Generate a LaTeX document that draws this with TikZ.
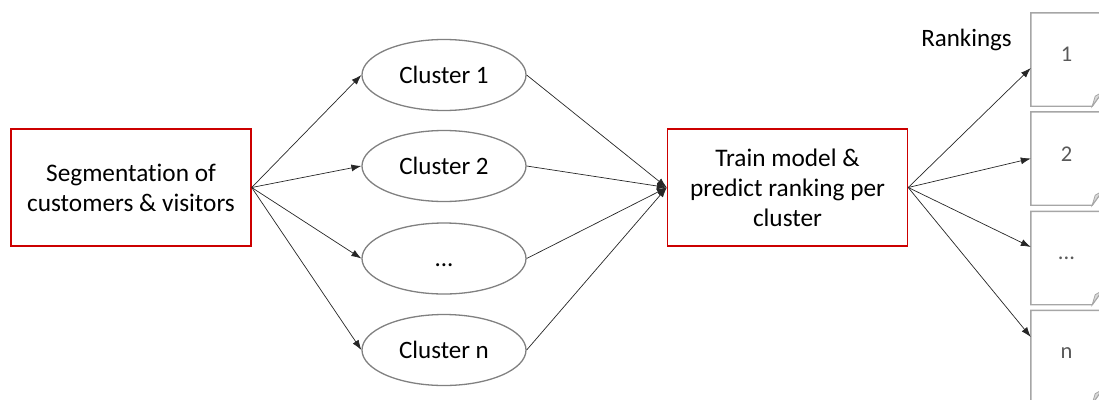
\documentclass[tikz,border=0pt]{standalone}
\usepackage{fontspec}
\setmainfont{Carlito}[Ligatures=NoCommon]
\usetikzlibrary{arrows.meta,shapes.geometric,calc}
\definecolor{boxred}{HTML}{CC0000}
\definecolor{ringgray}{HTML}{808080}
\definecolor{pagegray}{HTML}{A6A6A6}
\definecolor{foldgray}{HTML}{D9D9D9}
\definecolor{numgray}{HTML}{595959}
\begin{document}
\begin{tikzpicture}[x=1pt,y=-1pt,
  stagebox/.style={draw=boxred, line width=1.4pt, minimum width=240pt,
    minimum height=117pt, align=center, inner sep=0pt,
    font=\fontsize{25.3}{30}\selectfont},
  cluster/.style={ellipse, draw=ringgray, line width=1.3pt,
    minimum width=164pt, minimum height=71pt, inner sep=0pt,
    text height=16pt, text depth=0pt, font=\fontsize{25}{30}\selectfont},
  pagebox/.style={minimum width=71pt, minimum height=93pt, inner sep=0pt},
  pagenum/.style={text=numgray, inner sep=0pt, font=\fontsize{22.5}{24}\selectfont},
  pageline/.style={draw=pagegray, line width=1.4pt, line join=miter},
  link/.style={-{Latex[length=10pt,width=7pt]}, line width=0.7pt, draw=black!85}]
\useasboundingbox (0,0) rectangle (1099,399);

% stages
\node[stagebox] (seg) at (131,187.5) {Segmentation of\\customers \& visitors};
\node[stagebox] (train) at (787.5,187.5) {Train model \&\\predict ranking per\\cluster};

% clusters
\node[cluster] (c1) at (444,75) {Cluster 1};
\node[cluster] (c2) at (444,166) {Cluster 2};
\node[cluster] (c3) at (444,258.5) {...};
\node[cluster] (cn) at (444,350) {Cluster n};

% ranking pages with folded corner
\node (rk) at (966.5,40) {\fontsize{25}{30}\selectfont Rankings};
\foreach \nm/\y in {p1/59.5, p2/158.5, p3/258, pn/357}{
  \node[pagebox] (\nm) at (1066.5,\y) {};
  \draw[pageline] (\nm.north east) -- (\nm.north west) -- (\nm.south west)
    -- ([xshift=-10pt]\nm.south east) -- ([yshift=14pt]\nm.south east) -- cycle;
  \filldraw[fill=foldgray, draw=pagegray, line width=0.8pt]
    ([xshift=-10pt]\nm.south east) -- ([xshift=-7pt,yshift=10pt]\nm.south east)
    -- ([yshift=14pt]\nm.south east) -- cycle;
}
\node[pagenum] (t1) at ([yshift=5pt]p1.center) {1};
\node[pagenum] (t2) at ([yshift=4pt]p2.center) {2};
\node[pagenum] (t3) at (p3.center) {...};
\node[pagenum] (tn) at ([yshift=4pt]pn.center) {n};

% connectors
\foreach \c in {c1,c2,c3,cn}{
  \draw[link] (seg.east) -- (\c.west);
  \draw[link] (\c.east) -- (train.west);
}
\draw[link] (train.east) -- ([yshift=-8.5pt]p1.west);
\draw[link] (train.east) -- (p2.west);
\draw[link] (train.east) -- ([yshift=11pt]p3.west);
\draw[link] (train.east) -- ([yshift=20pt]pn.west);
\end{tikzpicture}
\end{document}
